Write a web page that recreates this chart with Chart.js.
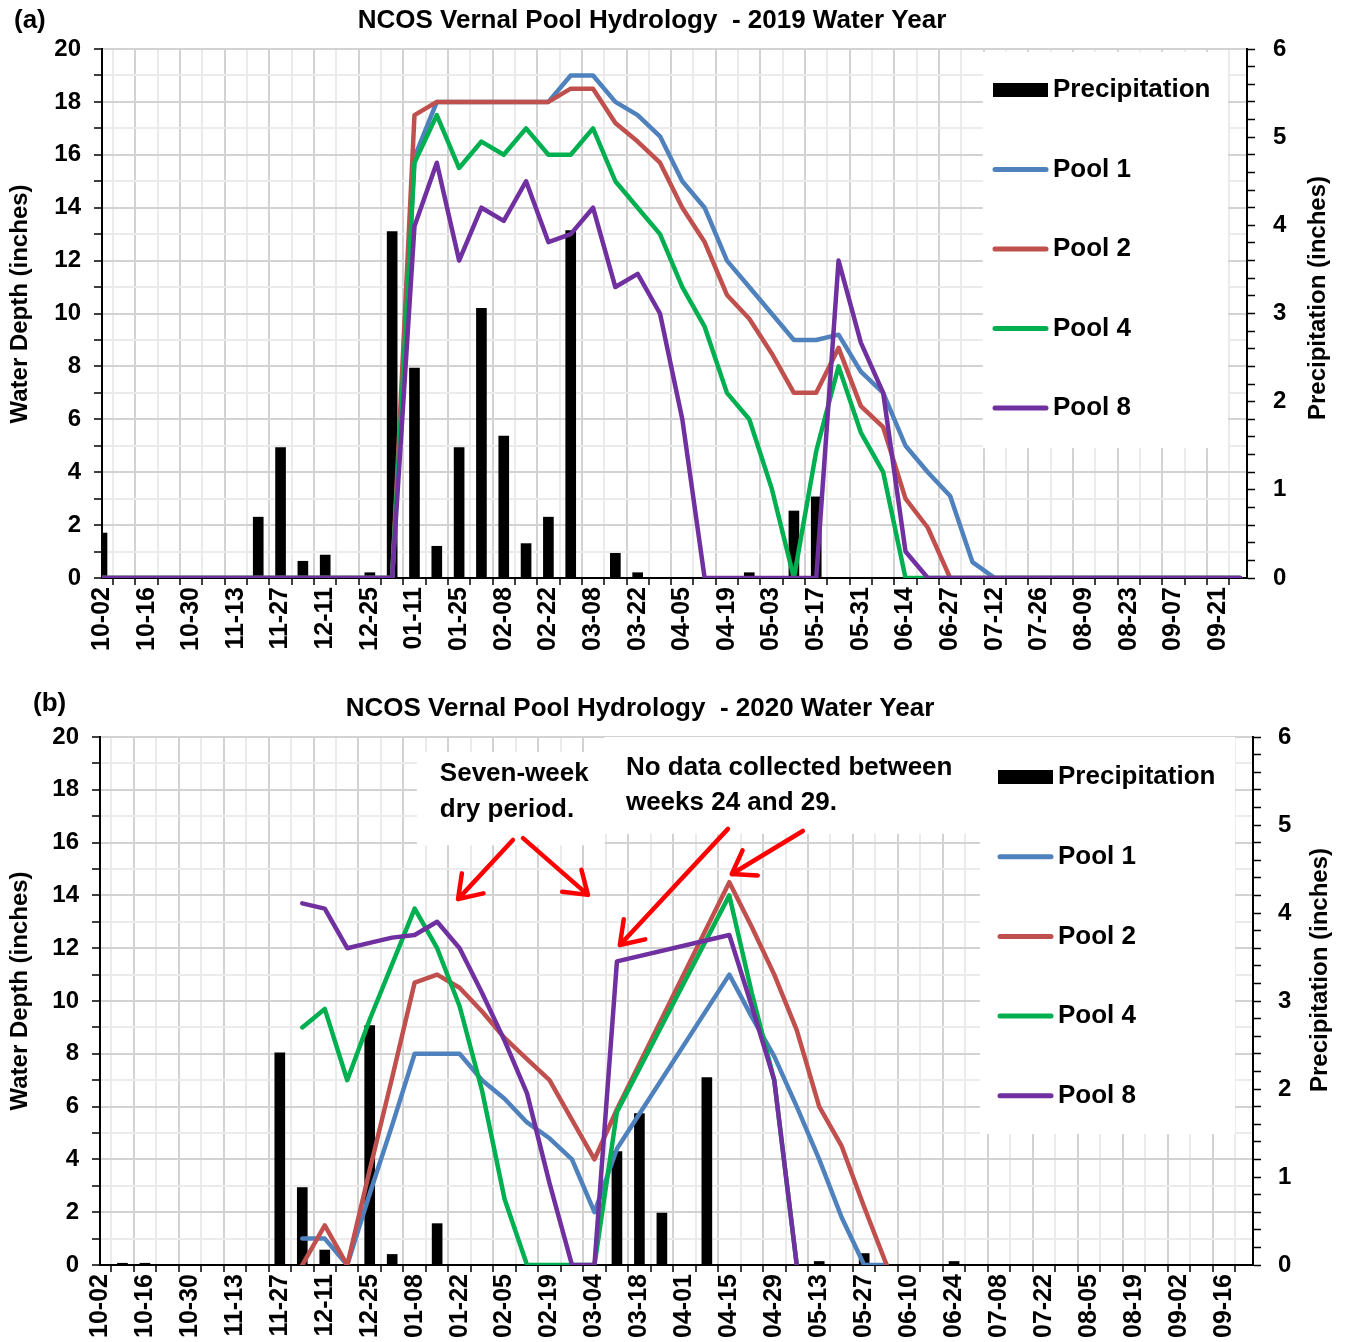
<!DOCTYPE html>
<html>
<head>
<meta charset="utf-8">
<title>NCOS Vernal Pool Hydrology</title>
<script src="https://cdn.jsdelivr.net/npm/chart.js@4.4.1/dist/chart.umd.min.js"></script>
<style>
  body { margin: 0; background: #fff; overflow: hidden; }
  canvas { position: absolute; left: 0; }
  #chartA { top: 0; }
  #chartB { top: 670px; }
</style>
</head>
<body>
<canvas id="chartA" width="1345" height="670"></canvas>
<canvas id="chartB" width="1345" height="672"></canvas>
<script>
// x axis: one category per week starting 10-02, labels on every second week
const ticks2019 = ['10-02', '10-16', '10-30', '11-13', '11-27', '12-11', '12-25', '01-11', '01-25', '02-08',
    '02-22', '03-08', '03-22', '04-05', '04-19', '05-03', '05-17', '05-31', '06-14', '06-27',
    '07-12', '07-26', '08-09', '08-23', '09-07', '09-21'];
const ticks2020 = ['10-02', '10-16', '10-30', '11-13', '11-27', '12-11', '12-25', '01-08', '01-22', '02-05',
    '02-19', '03-04', '03-18', '04-01', '04-15', '04-29', '05-13', '05-27', '06-10', '06-24',
    '07-08', '07-22', '08-05', '08-19', '09-02', '09-16'];

// 2019 water year (weeks 0..51)
const precip2019 = [0.51, 0, 0, 0, 0, 0, 0, 0.69, 1.48, 0.19, 0.26, 0, 0.06, 3.93, 2.38, 0.36, 1.48, 3.06, 1.61, 0.39,
    0.69, 3.94, 0, 0.28, 0.06, 0, 0, 0, 0, 0.06, 0, 0.76, 0.92, 0, 0, 0, 0, 0, 0, 0,
    0, 0, 0, 0, 0, 0, 0, 0, 0, 0, 0, 0];
const pool1_2019 = [0, 0, 0, 0, 0, 0, 0, 0, 0, 0, 0, 0, 0, 0, 15.9, 18, 18, 18, 18, 18,
    18, 19, 19, 18, 17.5, 16.7, 15, 14, 12, 11, 10, 9, 9, 9.2, 7.8, 7, 5, 4, 3.1, 0.6,
    0, 0, 0, 0, 0, 0, 0, 0, 0, 0, 0, 0];
const pool2_2019 = [0, 0, 0, 0, 0, 0, 0, 0, 0, 0, 0, 0, 0, 0, 17.5, 18, 18, 18, 18, 18,
    18, 18.5, 18.5, 17.2, 16.5, 15.7, 14, 12.7, 10.7, 9.8, 8.5, 7, 7, 8.7, 6.5, 5.7, 3, 1.9, 0, 0,
    0, 0, 0, 0, 0, 0, 0, 0, 0, 0, 0, 0];
const pool4_2019 = [0, 0, 0, 0, 0, 0, 0, 0, 0, 0, 0, 0, 0, 0, 15.7, 17.5, 15.5, 16.5, 16, 17,
    16, 16, 17, 15, 14, 13, 11, 9.5, 7, 6, 3.4, 0, 4.8, 8, 5.5, 4, 0, 0, 0, 0,
    0, 0, 0, 0, 0, 0, 0, 0, 0, 0, 0, 0];
const pool8_2019 = [0, 0, 0, 0, 0, 0, 0, 0, 0, 0, 0, 0, 0, 0, 13.3, 15.7, 12, 14, 13.5, 15,
    12.7, 13, 14, 11, 11.5, 10, 6, 0, 0, 0, 0, 0, 0, 12, 8.9, 7, 1, 0, 0, 0,
    0, 0, 0, 0, 0, 0, 0, 0, 0, 0, 0, 0];

// 2020 water year (null = no measurement)
const precip2020 = [0, 0.02, 0.02, 0, 0, 0, 0, 0, 2.41, 0.88, 0.17, 0, 2.72, 0.12, 0, 0.47, 0, 0, 0, 0,
    0, 0, 0, 1.29, 1.72, 0.59, 0, 2.13, 0, 0, 0, 0, 0.04, 0, 0.13, 0, 0, 0, 0.04, 0,
    0, 0, 0, 0, 0, 0, 0, 0, 0, 0, 0, 0];
const pool1_2020 = [null, null, null, null, null, null, null, null, null, 1, 1, 0, 2.7, 5.3, 8, 8, 8, 7, 6.3, 5.4,
    4.8, 4, 2, 4.4, null, null, null, null, 11, 9.4, 7.9, 6, 4, 1.8, 0, 0];
const pool2_2020 = [null, null, null, null, null, null, null, null, null, 0, 1.5, 0, 3.6, 7.1, 10.7, 11, 10.5, 9.6, 8.6, 7.8,
    7, 5.5, 4, 5.9, null, null, null, null, 14.5, 12.8, 11, 8.9, 6, 4.5, 2.2, 0];
const pool4_2020 = [null, null, null, null, null, null, null, null, null, 9, 9.7, 7, 9.3, 11.4, 13.5, 12, 9.8, 6.6, 2.5, 0,
    0, 0, 0, 5.8, null, null, null, null, 14, 10.3, 7, 0];
const pool8_2020 = [null, null, null, null, null, null, null, null, null, 13.7, 13.5, 12, 12.2, 12.4, 12.5, 13, 12, 10.3, 8.5, 6.5,
    3.1, 0, 0, 11.5, null, null, null, null, 12.5, 9.8, 7, 0];

const FONT = '"Liberation Sans", Arial, sans-serif';
const tickFont = { family: FONT, size: 24, weight: 'bold' };
const xTickFont = { family: FONT, size: 25, weight: 'bold' };

const panelDecor = {
    id: 'panelDecor',
    beforeDatasetsDraw(chart, args, opts) {
        const ctx = chart.ctx, xs = chart.scales.x, ys = chart.scales.y;
        ctx.save();
        ctx.fillStyle = '#fff';
        opts.boxes.forEach(b => {
            const l = xs.getPixelForValue(b[0]), r = xs.getPixelForValue(b[1]);
            const t = ys.getPixelForValue(b[2]), btm = ys.getPixelForValue(b[3]);
            ctx.fillRect(l, t, r - l, btm - t);
        });
        ctx.restore();
    },
    afterDatasetsDraw(chart, args, opts) {
        const ctx = chart.ctx, xs = chart.scales.x, ys = chart.scales.y;
        ctx.save();
        ctx.fillStyle = '#000';
        ctx.textBaseline = 'middle';
        ctx.font = 'bold 26px ' + FONT;

        // legend
        const lg = opts.legend;
        chart.data.datasets.forEach((ds, i) => {
            const yc = lg.y + i * lg.gap;
            if (ds.type === 'bar') {
                ctx.fillStyle = ds.backgroundColor;
                ctx.fillRect(lg.x, yc - 7, 55, 14);
            } else {
                ctx.strokeStyle = ds.borderColor;
                ctx.lineWidth = 5;
                ctx.lineCap = 'round';
                ctx.beginPath();
                ctx.moveTo(lg.x + 2, yc);
                ctx.lineTo(lg.x + 53, yc);
                ctx.stroke();
            }
            ctx.fillStyle = '#000';
            ctx.textAlign = 'left';
            ctx.fillText(ds.label, lg.x + 60, yc);
        });

        // notes
        opts.notes.forEach(n => {
            ctx.fillText(n[2], xs.getPixelForValue(n[0]), ys.getPixelForValue(n[1]));
        });

        // arrows
        ctx.strokeStyle = '#ff0000';
        ctx.lineWidth = 4.5;
        ctx.lineCap = 'round';
        ctx.lineJoin = 'round';
        opts.arrows.forEach(a => {
            const x0 = xs.getPixelForValue(a[0]), y0 = ys.getPixelForValue(a[1]);
            const x1 = xs.getPixelForValue(a[2]), y1 = ys.getPixelForValue(a[3]);
            const ang = Math.atan2(y1 - y0, x1 - x0);
            ctx.beginPath();
            ctx.moveTo(x0, y0);
            ctx.lineTo(x1, y1);
            ctx.moveTo(x1 - 26 * Math.cos(ang - 0.6), y1 - 26 * Math.sin(ang - 0.6));
            ctx.lineTo(x1, y1);
            ctx.lineTo(x1 - 26 * Math.cos(ang + 0.6), y1 - 26 * Math.sin(ang + 0.6));
            ctx.stroke();
        });
        ctx.restore();
    },
    afterDraw(chart, args, opts) {
        const ctx = chart.ctx;
        ctx.save();
        ctx.fillStyle = '#000';
        ctx.textBaseline = 'middle';
        ctx.font = 'bold 26px ' + FONT;
        ctx.textAlign = 'center';
        ctx.fillText(opts.title.text, opts.title.x, opts.title.y);
        ctx.textAlign = 'left';
        ctx.fillText(opts.tag.text, opts.tag.x, opts.tag.y);

        ctx.font = 'bold 24px ' + FONT;
        ctx.textAlign = 'center';
        [[opts.yTitle, 'Water Depth (inches)'], [opts.y2Title, 'Precipitation (inches)']].forEach(([p, txt]) => {
            ctx.save();
            ctx.translate(p.x, p.y);
            ctx.rotate(-Math.PI / 2);
            ctx.fillText(txt, 0, 0);
            ctx.restore();
        });
        ctx.restore();
    }
};

function makePanel(id, p) {
    const weeks = p.precip.map((_, i) => i);
    const depthTicks = Array.from({ length: 21 }, (_, i) => i);
    const rainTicks = Array.from({ length: 31 }, (_, i) => Math.round(i * 2) / 10);
    const major = '#d2d2d2', minor = '#ebebeb';

    const pools = [
        ['Pool 1', p.pool1, '#4f81bd', 4],
        ['Pool 2', p.pool2, '#c0504d', 3],
        ['Pool 4', p.pool4, '#00b050', 2],
        ['Pool 8', p.pool8, '#7030a0', 1]
    ];

    new Chart(document.getElementById(id), {
        type: 'bar',
        data: {
            labels: weeks,
            datasets: [
                {
                    type: 'bar',
                    label: 'Precipitation',
                    data: p.precip,
                    yAxisID: 'y2',
                    backgroundColor: '#000000',
                    barThickness: 10,
                    order: 5
                },
                ...pools.map(([label, data, color, order]) => ({
                    type: 'line',
                    label: label,
                    data: data,
                    yAxisID: 'y',
                    borderColor: color,
                    backgroundColor: color,
                    borderWidth: 4.5,
                    pointRadius: 0,
                    tension: 0,
                    spanGaps: true,
                    borderJoinStyle: 'round',
                    borderCapStyle: 'round',
                    order: order
                }))
            ]
        },
        options: {
            responsive: false,
            animation: false,
            devicePixelRatio: 1,
            layout: { padding: { top: p.padTop, left: 0, right: 0, bottom: 0 } },
            plugins: {
                legend: { display: false },
                tooltip: { enabled: false },
                panelDecor: p.decor
            },
            scales: {
                x: {
                    type: 'linear',
                    min: 0,
                    max: 51.3,
                    offset: false,
                    afterBuildTicks: s => { s.ticks = weeks.map(v => ({ value: v })); },
                    afterFit: s => { s.height = p.xHeight; },
                    ticks: {
                        autoSkip: false,
                        minRotation: 90,
                        maxRotation: 90,
                        padding: 2,
                        color: '#000',
                        font: xTickFont,
                        callback: v => (v % 2 === 0 ? p.ticks[v / 2] : '')
                    },
                    grid: {
                        color: c => (c.tick && c.tick.value % 2 === 0 ? major : minor),
                        lineWidth: 2,
                        tickColor: '#000',
                        tickWidth: 1.5,
                        tickLength: 7
                    },
                    border: { color: '#000', width: 2 }
                },
                y: {
                    position: 'left',
                    min: 0,
                    max: 20,
                    afterBuildTicks: s => { s.ticks = depthTicks.map(v => ({ value: v })); },
                    afterFit: s => { s.width = p.yWidth; },
                    ticks: {
                        autoSkip: false,
                        padding: 13,
                        color: '#000',
                        font: tickFont,
                        callback: v => (v % 2 === 0 ? v : '')
                    },
                    grid: {
                        color: c => (c.tick && c.tick.value % 2 === 0 ? major : minor),
                        lineWidth: 2,
                        tickColor: '#000',
                        tickWidth: 1.5,
                        tickLength: 8
                    },
                    border: { color: '#000', width: 2 }
                },
                y2: {
                    position: 'right',
                    min: 0,
                    max: 6,
                    afterBuildTicks: s => { s.ticks = rainTicks.map(v => ({ value: v })); },
                    afterFit: s => { s.width = p.y2Width; },
                    ticks: {
                        autoSkip: false,
                        padding: p.y2Pad,
                        color: '#000',
                        font: tickFont,
                        callback: v => (Number.isInteger(v) ? v : '')
                    },
                    grid: {
                        drawOnChartArea: false,
                        tickColor: '#000',
                        tickWidth: 1.5,
                        tickLength: 8
                    },
                    border: { color: '#000', width: 2 }
                }
            }
        },
        plugins: [panelDecor]
    });
}

makePanel('chartA', {
    ticks: ticks2019,
    precip: precip2019,
    pool1: pool1_2019,
    pool2: pool2_2019,
    pool4: pool4_2019,
    pool8: pool8_2019,
    padTop: 49,
    xHeight: 92,
    yWidth: 102,
    y2Width: 98,
    y2Pad: 18,
    decor: {
        title: { text: 'NCOS Vernal Pool Hydrology  - 2019 Water Year', x: 652, y: 21 },
        tag: { text: '(a)', x: 14, y: 21 },
        yTitle: { x: 20, y: 304 },
        y2Title: { x: 1318, y: 298 },
        legend: { x: 993, y: 90, gap: 79.5 },
        boxes: [[39.46, 50.45, 19.89, 4.91]],
        notes: [],
        arrows: []
    }
});

makePanel('chartB', {
    ticks: ticks2020,
    precip: precip2020,
    pool1: pool1_2020,
    pool2: pool2_2020,
    pool4: pool4_2020,
    pool8: pool8_2020,
    padTop: 67,
    xHeight: 77,
    yWidth: 100,
    y2Width: 92,
    y2Pad: 17,
    decor: {
        title: { text: 'NCOS Vernal Pool Hydrology  - 2020 Water Year', x: 640, y: 39 },
        tag: { text: '(b)', x: 33, y: 34 },
        yTitle: { x: 20, y: 321 },
        y2Title: { x: 1320, y: 300 },
        legend: { x: 998, y: 107, gap: 79.7 },
        boxes: [[14.1, 22.46, 19.43, 15.9], [22.46, 39.15, 20, 16.33], [39.15, 50.5, 20, 4.96]],
        notes: [
            [15.12, 18.6, 'Seven-week'],
            [15.12, 17.23, 'dry period.'],
            [23.4, 18.83, 'No data collected between'],
            [23.4, 17.5, 'weeks 24 and 29.']
        ],
        arrows: [
            [18.37, 16.1, 15.93, 13.86],
            [18.82, 16.17, 21.71, 14.02],
            [27.94, 16.52, 23.13, 12.12],
            [31.27, 16.44, 28.11, 14.81]
        ]
    }
});
</script>
</body>
</html>
